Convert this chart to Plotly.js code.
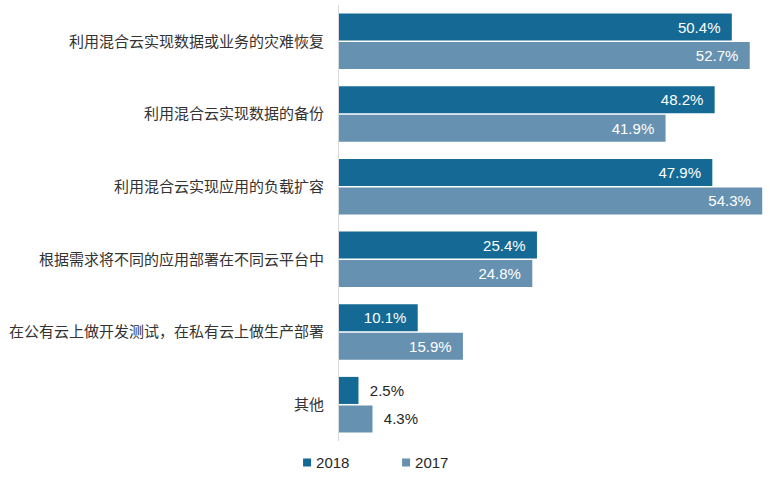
<!DOCTYPE html>
<html>
<head>
<meta charset="utf-8">
<script src="https://cdn.plot.ly/plotly-3.0.1.min.js"></script>
<style>
  html, body { margin: 0; padding: 0; background: #fff; }
  #chart { width: 770px; height: 483px; }
</style>
</head>
<body>
<div id="chart"></div>
<script>
"use strict"

var categories = [
    "利用混合云实现数据或业务的灾难恢复",
    "利用混合云实现数据的备份",
    "利用混合云实现应用的负载扩容",
    "根据需求将不同的应用部署在不同云平台中",
    "在公有云上做开发测试，在私有云上做生产部署",
    "其他"
];
var values_2018 = [50.4, 48.2, 47.9, 25.4, 10.1, 2.5];
var values_2017 = [52.7, 41.9, 54.3, 24.8, 15.9, 4.3];
var series_names = ["2018", "2017"];

var NB = "\u00a0";

// small bars get their label outside, everything else inside at the end
function positions(vals) {
    return vals.map(function(v) { return v < 5 ? "outside" : "inside"; });
}
function labels(vals) {
    return vals.map(function(v) {
        var s = v.toFixed(1) + "%";
        return v < 5 ? NB + NB + s : s + NB + NB;
    });
}

function make_trace(name, vals, color) {
    return {
        type: "bar",
        orientation: "h",
        name: name,
        y: categories,
        x: vals,
        marker: {color: color},
        text: labels(vals),
        textposition: positions(vals),
        insidetextanchor: "end",
        insidetextfont: {color: "#ffffff", size: 15, family: "Liberation Sans, Arial, sans-serif"},
        outsidetextfont: {color: "#262626", size: 15, family: "Liberation Sans, Arial, sans-serif"},
        cliponaxis: false,
        hoverinfo: "skip"
    };
}

var data = [
    make_trace(series_names[0], values_2018, "#146a94"),
    make_trace(series_names[1], values_2017, "#6791b0")
];

var layout = {
    width: 770,
    height: 483,
    margin: {l: 339, r: 0, t: 5, b: 42, pad: 0},
    paper_bgcolor: "#ffffff",
    plot_bgcolor: "#ffffff",
    barmode: "group",
    bargap: 0.216,
    bargroupgap: 0.05,
    showlegend: true,
    legend: {
        orientation: "h",
        traceorder: "normal",
        x: -0.146,
        xanchor: "left",
        y: -0.012,
        yanchor: "top",
        entrywidth: 54,
        font: {size: 15, color: "#262626", family: "Liberation Sans, Arial, sans-serif"}
    },
    xaxis: {
        range: [0, 55.3],
        visible: false,
        showgrid: false,
        zeroline: false,
        fixedrange: true
    },
    yaxis: {
        autorange: "reversed",
        showline: true,
        linecolor: "#d9d9d9",
        linewidth: 1,
        showgrid: false,
        zeroline: false,
        ticks: "outside",
        ticklen: 11,
        tickcolor: "rgba(0,0,0,0)",
        tickfont: {size: 15, color: "#333333", family: "Noto Sans CJK SC, sans-serif"},
        fixedrange: true
    }
};

Plotly.newPlot("chart", data, layout, {displayModeBar: false, staticPlot: true}).then(function(gd) {
    // the reference uses small square legend keys, close to the text
    gd.querySelectorAll(".legend .legendpoints path").forEach(function(p) {
        p.setAttribute("d", "M4,4H-4V-4H4Z");
        p.setAttribute("transform", "translate(31,0)");
    });
});
</script>
</body>
</html>
